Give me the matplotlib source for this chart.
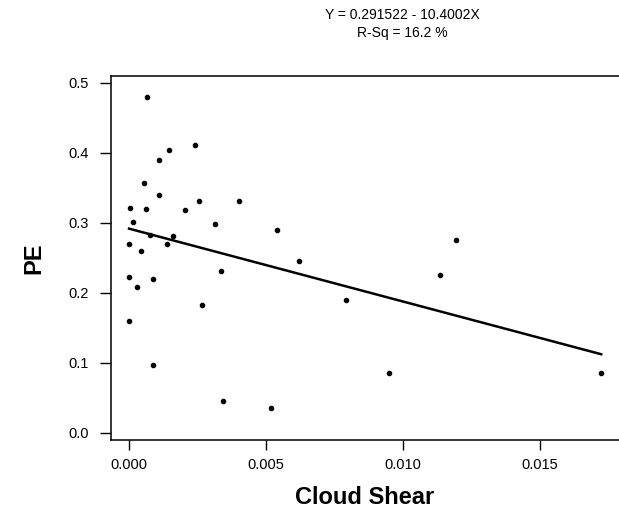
import matplotlib.pyplot as plt
import numpy as np

plt.rcParams['font.family'] = ['Liberation Sans', 'DejaVu Sans']

# Cloud shear vs PE data
cloud_shear = [0.00004, 0.00013, 0.0, 0.0, 0.0, 0.0003, 0.00043, 0.00056, 0.00062,
               0.00067, 0.00077, 0.00087, 0.00087, 0.0011, 0.0011, 0.00138, 0.00147,
               0.00162, 0.00206, 0.0024, 0.00257, 0.00268, 0.00315, 0.00335, 0.00345,
               0.0040, 0.00517, 0.00539, 0.0062, 0.00794, 0.00951, 0.01137, 0.01195,
               0.01725]
pe = [0.321, 0.301, 0.270, 0.223, 0.160, 0.208, 0.260, 0.357, 0.320,
      0.480, 0.282, 0.220, 0.097, 0.389, 0.340, 0.270, 0.404,
      0.281, 0.318, 0.411, 0.331, 0.182, 0.298, 0.231, 0.045,
      0.331, 0.036, 0.290, 0.246, 0.190, 0.086, 0.226, 0.276,
      0.086]

# Fitted regression
intercept = 0.291522
slope = -10.4002
r_sq = 16.2

fig = plt.figure(figsize=(6.19, 5.08), dpi=100)
ax = fig.add_axes([110.7 / 619, (508 - 440) / 508, (619 - 110.7) / 619, (440 - 75.7) / 508])

ax.scatter(cloud_shear, pe, s=9, color='black', zorder=3)

xfit = np.array([min(cloud_shear), max(cloud_shear)])
ax.plot(xfit, intercept + slope * xfit, color='black', linewidth=1.8)

ax.set_xlim(-0.00067, 0.0179)
ax.set_ylim(-0.0104, 0.51)
ax.set_xticks([0.0, 0.005, 0.010, 0.015])
ax.set_xticklabels(['0.000', '0.005', '0.010', '0.015'])
ax.set_yticks([0.0, 0.1, 0.2, 0.3, 0.4, 0.5])
ax.set_yticklabels(['0.0', '0.1', '0.2', '0.3', '0.4', '0.5'])
ax.tick_params(axis='x', length=7, width=1, labelsize=10.5, pad=6)
ax.tick_params(axis='y', length=8, width=1, labelsize=10.5, pad=8)
ax.spines['right'].set_visible(False)
for s in ['left', 'bottom', 'top']:
    ax.spines[s].set_linewidth(1.1)

ax.set_xlabel('Cloud Shear', fontsize=17, fontweight='bold', labelpad=10)
ax.set_ylabel('PE', fontsize=17, fontweight='bold', labelpad=16)

fig.text(402 / 619, 1 - 15 / 508, 'Y = %.6f - %.4fX' % (intercept, -slope),
         ha='center', va='center', fontsize=10)
fig.text(402 / 619, 1 - 33 / 508, 'R-Sq = %.1f %%' % r_sq,
         ha='center', va='center', fontsize=10)

plt.savefig('out.png', dpi=100)
